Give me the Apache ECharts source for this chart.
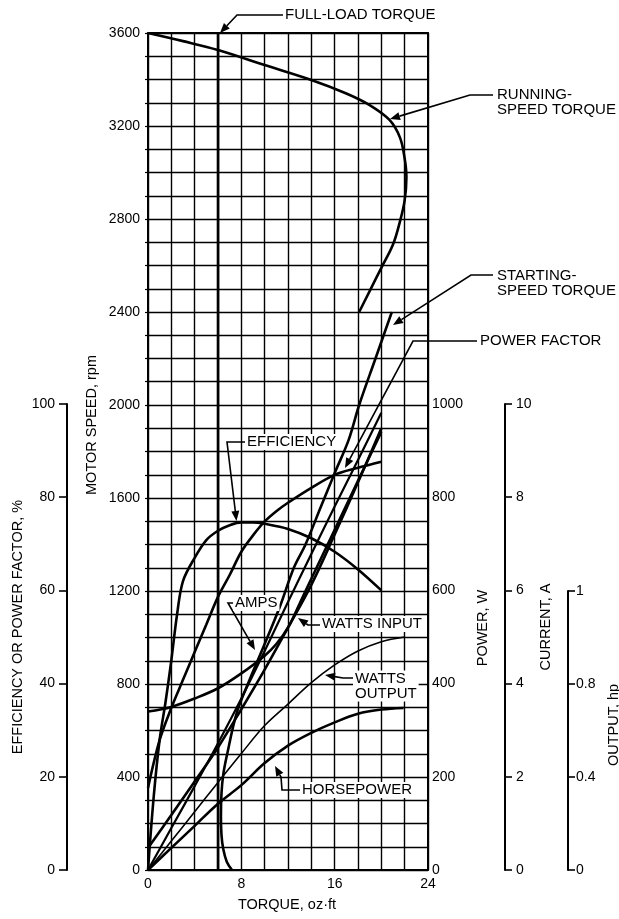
<!DOCTYPE html>
<html>
<head>
<meta charset="utf-8">
<script src="https://cdn.jsdelivr.net/npm/echarts@6/dist/echarts.min.js"></script>
<style>
  html, body { margin: 0; padding: 0; background: #fff; }
  #chart { width: 619px; height: 919px; }
</style>
</head>
<body>
<div id="chart"></div>
<script>
// torque in oz·ft, speed in rpm
const fullLoadTorque = 6;
const runTorque = [0, 3, 6, 10, 14, 17, 19, 20.7, 21.6, 22.0, 22.15, 22.0, 21.6, 21.0, 20.0, 19.0, 18.1];
const runSpeed = [3600, 3565, 3527, 3462, 3398, 3340, 3290, 3226, 3150, 3060, 2980, 2880, 2790, 2690, 2590, 2490, 2400];
const startTorque = [7.2, 6.75, 6.45, 6.3, 6.25, 6.3, 6.45, 6.75, 7.6, 8.7, 9.9, 11.3, 12.5, 13.5, 14.8, 16.0, 17.2, 18.1, 19.5, 20.9];
const startSpeed = [0, 36, 90, 150, 230, 330, 410, 490, 675, 817, 960, 1132, 1300, 1400, 1560, 1707, 1850, 2000, 2200, 2400];

// percent
const effTorque = [0, 0.5, 1.0, 1.5, 2.0, 2.5, 3, 4, 5, 6, 7, 8, 9, 10, 12, 14, 16, 18, 20];
const effPct = [0, 16, 28, 36, 45, 55, 62, 67, 70.8, 72.8, 74, 74.6, 74.6, 74.3, 73.2, 71.2, 68.3, 64.5, 60];
const pfTorque = [0, 1, 2, 3, 4, 5, 6, 7, 8, 9, 10, 11, 12, 14, 16, 18, 20];
const pfPct = [17.6, 27.9, 34.8, 40.8, 46.8, 52.7, 58.6, 63.3, 68.3, 71.8, 74.8, 77, 78.8, 82, 84.8, 86.3, 87.6];

// watts
const inTorque = [0, 2, 4, 6, 8, 10, 12, 14, 16, 18, 20];
const inWatts = [47, 118, 190, 263, 345, 430, 520, 612, 720, 832, 948];
const rawTorque = [0, 2, 4, 6, 8, 10, 12, 14, 16, 18, 20];
const rawWatts = [0, 90, 180, 272, 368, 470, 575, 678, 780, 880, 981];
const outTorque = [0, 2, 4, 6, 8, 10, 12, 14, 16, 18, 20, 22];
const outWatts = [0, 62, 125, 188, 250, 310, 356, 402, 440, 470, 490, 500];

// amps
const ampTorque = [0, 2, 4, 6, 8, 10, 11, 12, 13, 14, 16, 18, 20];
const ampAmps = [3.4, 3.5, 3.68, 3.9, 4.22, 4.6, 4.85, 5.2, 5.72, 6.25, 7.3, 8.35, 9.4];

// horsepower
const hpTorque = [0, 2, 4, 6, 8, 10, 12, 14, 16, 18, 20, 21.9];
const hpOut = [0, 0.095, 0.19, 0.285, 0.365, 0.46, 0.535, 0.59, 0.635, 0.672, 0.69, 0.697];

const speedTicks = [0, 400, 800, 1200, 1600, 2000, 2400, 2800, 3200, 3600];
const torqueTicks = [0, 8, 16, 24];

const zip = (a, b) => a.map((v, i) => [v, b[i]]);
const FONT = '"Liberation Sans", Arial, sans-serif';
const black = '#000';

const chart = echarts.init(document.getElementById('chart'));

function line(name, xi, yi, data, width) {
  return {
    name: name,
    type: 'line',
    xAxisIndex: xi,
    yAxisIndex: yi,
    data: data,
    smooth: 0.35,
    showSymbol: false,
    symbol: 'none',
    silent: true,
    lineStyle: { color: black, width: width || 2.6 },
    z: 5,
  };
}

// leader line with a filled arrowhead at the last point
function arrow(points) {
  const n = points.length;
  const [tx, ty] = points[n - 1];
  const [px, py] = points[n - 2];
  const ang = Math.atan2(ty - py, tx - px);
  const len = 10, hw = 4;
  const bx = tx - len * Math.cos(ang), by = ty - len * Math.sin(ang);
  const head = [
    [tx, ty],
    [bx + hw * Math.sin(ang), by - hw * Math.cos(ang)],
    [bx - hw * Math.sin(ang), by + hw * Math.cos(ang)],
  ];
  const shaft = points.slice(0, n - 1).concat([[bx, by]]);
  return [
    { type: 'polyline', z: 20, shape: { points: shaft }, style: { stroke: black, lineWidth: 1.6, fill: null } },
    { type: 'polygon', z: 20, shape: { points: head }, style: { fill: black } },
  ];
}

function label(text, x, y, bg, lh) {
  return {
    type: 'text', z: 21, x: x, y: y,
    style: {
      text: text, fill: black, font: '15px ' + FONT,
      verticalAlign: 'middle', align: 'left',
      lineHeight: lh || 15,
      backgroundColor: bg ? '#fff' : null, padding: bg ? [1, 2, 0, 2] : 0,
    },
  };
}

function vtitle(text, x, y) {
  return {
    type: 'text', z: 21, x: x, y: y, rotation: Math.PI / 2,
    style: { text: text, fill: black, font: '14.5px ' + FONT, align: 'center', verticalAlign: 'middle' },
  };
}

const gridLine = { show: true, lineStyle: { color: black, width: 1.4 } };
const lbl = { color: black, fontSize: 14, fontFamily: FONT };
const axLine = { show: true, onZero: false, lineStyle: { color: black, width: 2 } };

chart.setOption({
  backgroundColor: '#fff',
  animation: false,
  grid: [
    { left: 148, right: 191, top: 33, bottom: 49 },
    { left: 148, right: 191, top: 404, bottom: 49 },
    { left: 148, right: 191, top: 591, bottom: 49 },
  ],
  xAxis: [
    {
      gridIndex: 0, type: 'value', min: 0, max: 24, interval: 2,
      axisLine: axLine,
      axisTick: { show: false },
      axisLabel: Object.assign({ margin: 7, formatter: v => torqueTicks.includes(v) ? String(v) : '' }, lbl),
      splitLine: gridLine,
    },
    {
      gridIndex: 0, type: 'value', min: 0, max: 24, position: 'top',
      axisLine: axLine,
      axisTick: { show: false }, axisLabel: { show: false }, splitLine: { show: false },
    },
    { gridIndex: 1, type: 'value', min: 0, max: 24, show: false },
    { gridIndex: 2, type: 'value', min: 0, max: 24, show: false },
  ],
  yAxis: [
    {
      gridIndex: 0, type: 'value', min: 0, max: 3600, interval: 100,
      axisLine: axLine,
      axisTick: { show: true, length: 3, lineStyle: { color: black, width: 1.2 } },
      axisLabel: Object.assign({ margin: 8, formatter: v => speedTicks.includes(v) ? String(v) : '' }, lbl),
      splitLine: gridLine,
    },
    {
      gridIndex: 0, type: 'value', min: 0, max: 3600, position: 'right',
      axisLine: axLine,
      axisTick: { show: false }, axisLabel: { show: false }, splitLine: { show: false },
    },
    {
      gridIndex: 1, type: 'value', min: 0, max: 100, interval: 20, position: 'left', offset: 81,
      axisLine: axLine,
      axisTick: { show: true, length: 8, lineStyle: { color: black, width: 1.6 } },
      axisLabel: Object.assign({ margin: 12 }, lbl),
      splitLine: { show: false },
    },
    {
      gridIndex: 1, type: 'value', min: 0, max: 1000, interval: 200, position: 'right', offset: 0,
      axisLine: { show: false, onZero: false }, axisTick: { show: false },
      axisLabel: Object.assign({ margin: 4, formatter: v => String(v) }, lbl),
      splitLine: { show: false },
    },
    {
      gridIndex: 1, type: 'value', min: 0, max: 10, interval: 2, position: 'right', offset: 77,
      axisLine: axLine,
      axisTick: { show: true, length: 7, lineStyle: { color: black, width: 1.6 } },
      axisLabel: Object.assign({ margin: 11 }, lbl),
      splitLine: { show: false },
    },
    {
      gridIndex: 2, type: 'value', min: 0, max: 1.2, interval: 0.4, position: 'right', offset: 140,
      axisLine: axLine,
      axisTick: { show: true, length: 7, lineStyle: { color: black, width: 1.6 } },
      axisLabel: Object.assign({ margin: 8, formatter: v => v > 1.1 ? '1' : String(+v.toFixed(1)) }, lbl),
      splitLine: { show: false },
    },
  ],
  series: [
    line('FULL-LOAD TORQUE', 0, 0, [[fullLoadTorque, 0], [fullLoadTorque, 3600]], 2.6),
    line('RUNNING-SPEED TORQUE', 0, 0, zip(runTorque, runSpeed)),
    line('STARTING-SPEED TORQUE', 0, 0, zip(startTorque, startSpeed)),
    line('EFFICIENCY', 2, 2, zip(effTorque, effPct)),
    line('POWER FACTOR', 2, 2, zip(pfTorque, pfPct)),
    line('WATTS INPUT', 2, 3, zip(inTorque, inWatts)),
    line('INPUT FROM ZERO', 2, 3, zip(rawTorque, rawWatts), 2.2),
    line('WATTS OUTPUT', 2, 3, zip(outTorque, outWatts), 1.6),
    line('AMPS', 2, 4, zip(ampTorque, ampAmps)),
    line('HORSEPOWER', 3, 5, zip(hpTorque, hpOut)),
  ],
  graphic: [
    ...arrow([[283, 15], [237, 15], [220, 33]]),
    label('FULL-LOAD TORQUE', 285, 15),
    ...arrow([[493, 95], [470, 95], [390, 119]]),
    label('RUNNING-\nSPEED TORQUE', 497, 102),
    ...arrow([[493, 275], [471, 275], [393, 325]]),
    label('STARTING-\nSPEED TORQUE', 497, 283),
    ...arrow([[477, 341], [413, 341], [345, 468]]),
    label('POWER FACTOR', 480, 341),
    ...arrow([[246, 442], [227, 442], [236.5, 521]]),
    label('EFFICIENCY', 245, 442, true),
    ...arrow([[233, 603], [228, 603], [255, 650]]),
    label('AMPS', 233, 603, true),
    ...arrow([[320, 625], [308, 625], [298, 618]]),
    label('WATTS INPUT', 320, 624, true),
    ...arrow([[353, 678], [343, 678], [325, 675]]),
    label('WATTS\nOUTPUT', 353, 686, true),
    ...arrow([[300, 790], [282, 790], [281, 777], [275, 766]]),
    label('HORSEPOWER', 300, 790, true),
    vtitle('MOTOR SPEED, rpm', 92, 425),
    vtitle('EFFICIENCY OR POWER FACTOR, %', 18, 627),
    vtitle('POWER, W', 483, 628),
    vtitle('CURRENT, A', 546, 627),
    vtitle('OUTPUT, hp', 614, 725),
    {
      type: 'text', z: 21, x: 287, y: 905,
      style: { text: 'TORQUE, oz·ft', fill: black, font: '14.5px ' + FONT, align: 'center', verticalAlign: 'middle' },
    },
  ],
});
</script>
</body>
</html>
